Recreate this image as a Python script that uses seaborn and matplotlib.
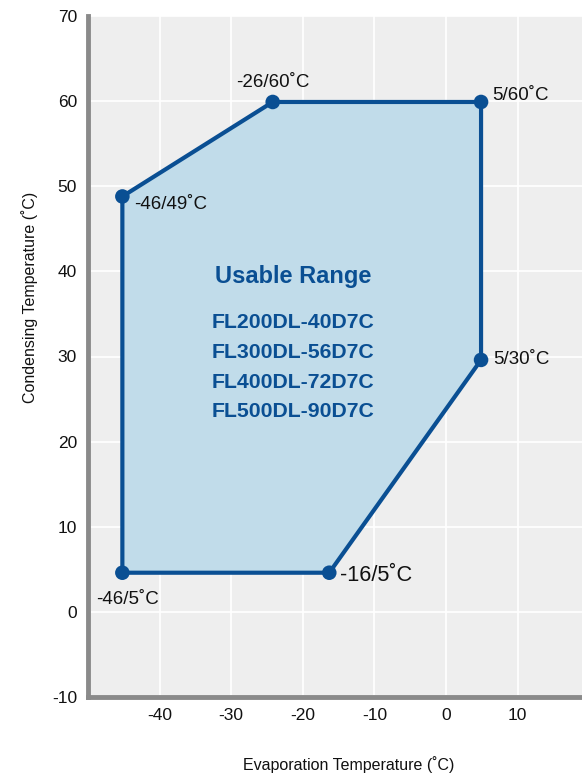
import matplotlib
matplotlib.use('Agg')
import matplotlib.pyplot as plt
import seaborn as sns
import pandas as pd

# ─────────────────────────────────────────────
# DATA – operating envelope corners (as plotted)
# ─────────────────────────────────────────────
evap_temp = [-45.2, -24.2, 4.9, 4.9, -16.3, -45.2]
cond_temp = [48.8, 59.9, 59.9, 29.6, 4.6, 4.6]
corner_labels = ["-46/49˚C", "-26/60˚C", "5/60˚C", "5/30˚C", "-16/5˚C", "-46/5˚C"]
models = ["FL200DL-40D7C", "FL300DL-56D7C", "FL400DL-72D7C", "FL500DL-90D7C"]
x_ticks = [-40, -30, -20, -10, 0, 10]
y_ticks = [-10, 0, 10, 20, 30, 40, 50, 60, 70]

LINE = '#0a4f93'
FILL = '#c1dcea'

sns.set_theme(style='darkgrid', rc={
    'axes.facecolor': '#eeeeee',
    'grid.color': 'white',
    'grid.linewidth': 1.2,
})
plt.rcParams['font.family'] = ['Liberation Sans', 'DejaVu Sans']
plt.rcParams['axes.unicode_minus'] = False

df = pd.DataFrame({'evap': evap_temp + evap_temp[:1], 'cond': cond_temp + cond_temp[:1]})

fig = plt.figure(figsize=(5.82, 7.77), dpi=100)
ax = fig.add_axes([88 / 582, 80 / 777, 494 / 582, 681 / 777])

ax.fill(evap_temp, cond_temp, color=FILL, zorder=1, linewidth=0)
sns.lineplot(data=df, x='evap', y='cond', sort=False, estimator=None,
             color=LINE, linewidth=3, ax=ax, zorder=2)
sns.scatterplot(x=evap_temp, y=cond_temp, color=LINE, s=110, edgecolor='none',
                ax=ax, zorder=3)

# corner annotations: (dx, dy, ha, size)
offsets = {
    "-46/49˚C": (1.7, -0.9, 'left', 13.5),
    "-26/60˚C": (0.0, 2.3, 'center', 13.5),
    "5/60˚C": (1.5, 0.8, 'left', 13.5),
    "5/30˚C": (1.7, 0.0, 'left', 13.5),
    "-16/5˚C": (1.5, -0.3, 'left', 15.7),
    "-46/5˚C": (-3.7, -3.2, 'left', 13.5),
}
for xv, yv, lab in zip(evap_temp, cond_temp, corner_labels):
    dx, dy, ha, fs = offsets[lab]
    ax.text(xv + dx, yv + dy, lab, ha=ha, va='center', fontsize=fs, color='#111111')

ax.text(-21.3, 39.4, "Usable Range", ha='center', va='center', fontsize=17,
        fontweight='bold', color=LINE)
for i, m in enumerate(models):
    ax.text(-21.3, 34.0 - 3.5 * i, m, ha='center', va='center', fontsize=15.3,
            fontweight='bold', color=LINE)

ax.set_xlim(-50, 19)
ax.set_ylim(-10, 70)
ax.set_xticks(x_ticks)
ax.set_yticks(y_ticks)
ax.tick_params(axis='both', length=0, labelsize=12.5, colors='#111111', pad=8)

ax.set_xlabel('Evaporation Temperature (˚C)', fontsize=11.5, color='#111111')
ax.set_ylabel('Condensing Temperature (˚C)', fontsize=11.5, color='#111111')
ax.xaxis.set_label_coords(0.528, -0.086)
ax.yaxis.set_label_coords(-0.101, 0.587)

for side in ['top', 'right']:
    ax.spines[side].set_visible(False)
for side in ['left', 'bottom']:
    ax.spines[side].set_visible(True)
    ax.spines[side].set_color('#8a8a8a')
    ax.spines[side].set_linewidth(3.5)

fig.savefig('out.png', dpi=100)
plt.close(fig)
